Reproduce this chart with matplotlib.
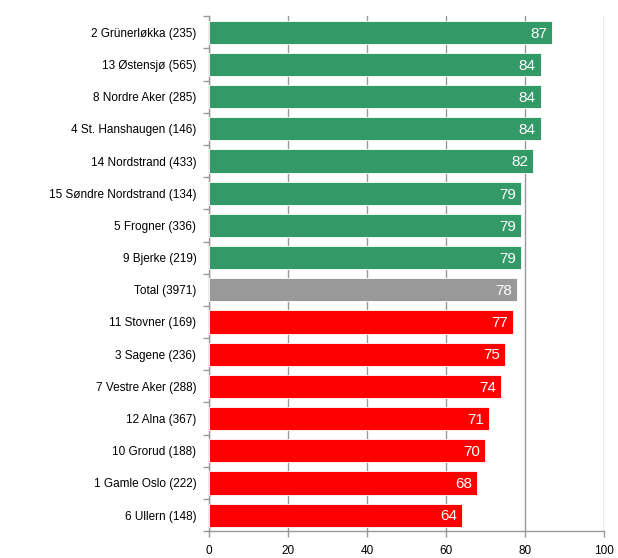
import numpy as np
import matplotlib.pyplot as plt

# Categories from top to bottom, as shown in the chart
labels = ['2 Grünerløkka (235)', '13 Østensjø (565)', '8 Nordre Aker (285)',
          '4 St. Hanshaugen (146)', '14 Nordstrand (433)',
          '15 Søndre Nordstrand (134)', '5 Frogner (336)', '9 Bjerke (219)',
          'Total (3971)', '11 Stovner (169)', '3 Sagene (236)',
          '7 Vestre Aker (288)', '12 Alna (367)', '10 Grorud (188)',
          '1 Gamle Oslo (222)', '6 Ullern (148)']
values = [87, 84, 84, 84, 82, 79, 79, 79, 78, 77, 75, 74, 71, 70, 68, 64]
groups = ['above'] * 8 + ['total'] + ['below'] * 7

colors = {'above': '#339966', 'total': '#999999', 'below': '#ff0000'}
grid_col = '#999999'

plt.rcParams['font.family'] = ['Liberation Sans', 'DejaVu Sans']

fig = plt.figure(figsize=(6.18, 5.58), dpi=100)
ax = fig.add_axes([0.338, 0.048, 0.639, 0.923])

y = np.arange(len(labels))
bar_colors = [colors[g] for g in groups]
bars = ax.barh(y, values, height=0.72, color=bar_colors,
               edgecolor='white', linewidth=0.6, zorder=3)

for yi, v in zip(y, values):
    ax.text(v - 1.2, yi + 0.04, str(v), ha='right', va='center',
            color='white', fontsize=11, zorder=4)

ax.set_ylim(len(labels) - 0.5, -0.5)
ax.set_xlim(0, 100)
ax.set_xticks(range(0, 101, 20))
ax.set_yticks(y)
ax.set_yticklabels(labels, fontsize=8.5)
ax.set_yticks(np.arange(-0.5, len(labels), 1), minor=True)
ax.tick_params(axis='y', which='major', length=0, pad=9)
ax.tick_params(axis='y', which='minor', length=4, color=grid_col, width=1)
ax.tick_params(axis='x', length=4, color=grid_col, width=1, labelsize=8.5, pad=6)

ax.grid(axis='x', color=grid_col, linewidth=1, zorder=0)
for side in ['top', 'right']:
    ax.spines[side].set_visible(False)
for side in ['left', 'bottom']:
    ax.spines[side].set_color(grid_col)
    ax.spines[side].set_linewidth(1)

fig.savefig('out.png', dpi=100)
